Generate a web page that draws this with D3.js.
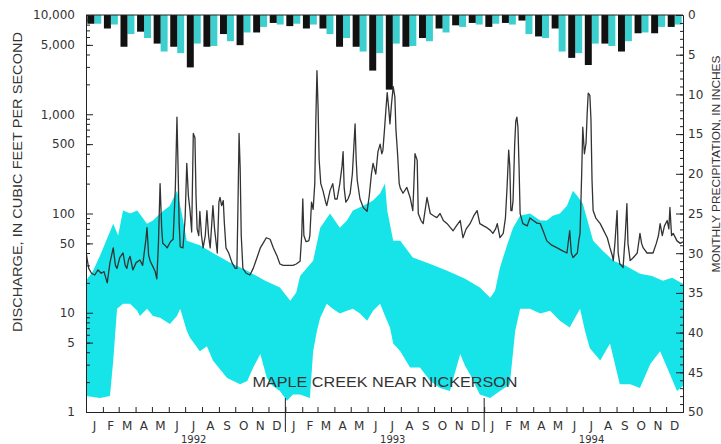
<!DOCTYPE html>
<html>
<head>
<meta charset="utf-8">
<script src="https://cdn.jsdelivr.net/npm/d3@7"></script>
<style>
  body { margin: 0; background: #fff; }
  text { font-family: "DejaVu Sans", sans-serif; fill: #333; }
  .title { font-family: "Liberation Sans", Arial, sans-serif; }
</style>
</head>
<body>
<svg id="chart"></svg>
<script>
// month letters and years along the bottom
const monthLetters = ['J','F','M','A','M','J','J','A','S','O','N','D'];
const years = [1992, 1993, 1994];

// tick labels
const dischargeTicks = [1, 5, 10, 50, 100, 500, 1000, 5000, 10000];
const precipTicks = [0, 5, 10, 15, 20, 25, 30, 35, 40, 45, 50];

// monthly precipitation, inches (Jan 1992 - Dec 1994)
const precipActual = [
  1.1, 1.7, 4.0, 2.1, 3.6, 4.0, 6.6, 4.0, 2.4, 3.8, 2.2, 1.0,
  1.4, 1.7, 1.7, 4.0, 4.0, 7.0, 9.4, 4.0, 2.9, 1.7, 1.3, 1.0,
  1.5, 1.0, 0.7, 2.7, 1.7, 5.4, 6.3, 3.6, 4.6, 2.3, 2.3, 1.5
];
// normal monthly precipitation, inches (Jan - Dec)
const precipNormal = [1.1, 1.2, 2.4, 2.9, 4.6, 4.8, 3.6, 3.9, 3.3, 2.2, 1.5, 1.2];

// daily discharge, [day since 1 Jan 1992, cfs]
const dailyFlow = [
  [0,42],[2,35],[5,28],[10,25],[16,24],[22,27],[28,25],[33,26],[39,20],[44,32],[50,45],[54,30],
  [57,28],[62,36],[68,40],[72,30],[75,28],[78,34],[81,37],[86,27],[92,32],[99,34],[104,30],[110,55],
  [112,72],[115,38],[118,33],[123,29],[127,26],[130,22],[133,50],[136,200],[139,70],[141,50],[145,48],
  [149,45],[155,52],[160,55],[164,180],[167,935],[169,300],[171,80],[173,46],[178,45],[182,90],[185,320],
  [188,150],[191,107],[194,65],[197,640],[200,580],[202,150],[204,70],[207,60],[209,105],[212,60],[215,45],
  [219,60],[222,107],[225,60],[228,45],[233,120],[236,70],[241,40],[244,130],[246,145],[249,120],[252,135],
  [254,80],[257,45],[262,40],[268,32],[274,28],[277,28],[279,120],[281,640],[283,290],[285,60],[288,28],
  [294,25],[301,24],[307,28],[314,36],[320,45],[325,50],[331,57],[338,55],[344,45],[351,37],[356,31],
  [362,30],[369,30],[375,30],[380,30],[386,31],[393,33],
  [396,60],[398,140],[400,60],[404,52],[409,53],[411,60],[414,130],[417,110],[420,200],[422,900],[424,2750],
  [426,1200],[428,350],[431,200],[435,170],[440,130],[442,120],[448,170],[453,200],[457,140],[461,140],
  [466,200],[470,300],[472,420],[474,180],[477,130],[481,140],[485,160],[489,250],[492,500],[494,800],
  [496,350],[498,215],[503,140],[509,115],[516,105],[520,150],[524,250],[527,320],[532,250],[536,420],
  [540,500],[543,400],[545,430],[548,700],[551,1200],[553,1650],[556,1100],[558,800],[561,1300],[564,1900],
  [567,1500],[569,700],[572,400],[575,200],[577,180],[582,160],[589,183],[595,145],[600,107],[602,200],
  [604,400],[608,343],[610,100],[615,85],[619,79],[626,145],[632,100],[638,95],[644,91],[650,100],[656,85],
  [663,79],[669,72],[674,67],[680,75],[687,85],[692,57],[698,70],[705,79],[712,95],[718,107],[723,79],
  [730,75],[736,72],[742,68],[747,63],[752,70],[755,79],[760,57],[766,63],
  [770,90],[773,183],[776,435],[778,300],[780,107],[782,107],[784,135],[787,500],[789,850],[791,935],
  [793,740],[795,300],[797,100],[802,79],[810,75],[815,90],[821,85],[828,80],[834,79],[840,65],[846,53],
  [855,48],[865,45],[875,42],[883,40],[886,55],[888,67],[891,40],[894,36],[898,38],[902,40],[905,55],
  [907,63],[910,250],[912,740],[915,400],[918,510],[920,1000],[922,1630],[925,1550],[927,900],[929,215],
  [931,107],[936,90],[944,79],[950,68],[957,57],[962,45],[966,38],[968,33.5],[971,50],[975,107],[977,40],
  [980,31],[983,30],[986,28.5],[990,60],[993,126],[995,50],[999,33.5],[1005,36],[1012,40],[1017,63],
  [1020,50],[1023,45],[1030,40],[1036,40],[1041,40],[1047,50],[1051,60],[1054,79],[1058,60],[1062,75],
  [1067,85],[1070,70],[1072,115],[1075,60],[1078,63],[1085,53],[1091,50],[1096,52]
];

// historical range band, [day, cfs]
const bandUpper = [
  [0,21],[13,26.5],[26,38],[50,79],[59,60],[68,107],[81,100],[94,107],[112,79],[123,85],[136,100],
  [154,120],[167,170],[176,100],[185,53],[209,48],[233,40],[264,32],[296,26.5],[329,21],[356,18],
  [375,13.2],[386,16],[393,23.5],[417,33.5],[430,72],[448,100],[466,72],[479,85],[490,107],[509,120],
  [527,135],[540,160],[549,200],[553,107],[564,53],[577,53],[600,36],[632,31],[663,26.5],[696,22],
  [723,18],[742,14.2],[751,16.7],[760,28.5],[773,48],[784,72],[797,95],[815,100],[834,85],[846,85],
  [857,95],[870,100],[883,120],[894,170],[902,150],[912,126],[931,53],[949,42],[968,33.5],[990,30],
  [1017,24.7],[1039,23.5],[1059,21],[1076,22.5],[1096,19.6]
];
const bandLower = [
  [0,1.45],[26,1.38],[44,1.45],[50,3.3],[57,11],[68,12.3],[81,12.3],[94,10.5],[99,9.3],[112,11],
  [123,9.3],[136,8.9],[154,7.7],[167,9.3],[173,11],[185,6.6],[191,5.6],[209,4.1],[222,4.6],[233,3.3],
  [246,2.7],[259,2.2],[283,1.9],[296,2.05],[307,2.8],[320,3.85],[332,2.2],[343,1.83],[356,1.63],
  [369,1.3],[380,1.5],[393,1.5],[411,1.38],[417,4.1],[424,6.6],[430,8.9],[442,12.3],[453,11],[466,9.8],
  [479,10.5],[490,11],[503,9.8],[516,8.3],[527,10.5],[540,12.3],[549,9.3],[558,7.1],[564,4.9],[577,4.1],
  [595,2.8],[613,2.8],[632,2.05],[650,1.75],[668,1.63],[687,3.85],[696,2.9],[705,2.4],[723,1.5],
  [742,1.38],[760,1.63],[778,1.9],[788,6.6],[797,11],[815,11],[834,9.8],[852,10.5],[870,8.3],[888,7.1],
  [907,11],[916,6.6],[925,4.4],[944,3.3],[962,4.9],[980,1.9],[999,1.9],[1017,1.75],[1036,3.05],
  [1054,4.1],[1072,2.4],[1085,1.63],[1096,1.83]
];

const width = 721, height = 444;
const margin = {left: 86, right: 683, top: 15, bottom: 412};
const start = new Date(1992, 0, 1);
const end = new Date(1995, 0, 1);
const day = d => d3.timeDay.offset(start, d);

const svg = d3.select('#chart').attr('width', width).attr('height', height);

const x = d3.scaleTime().domain([start, end]).range([margin.left, margin.right]);
const y = d3.scaleLog().domain([1, 10000]).range([margin.bottom, margin.top]);
const yP = d3.scaleLinear().domain([0, 50]).range([margin.top, margin.bottom]);

svg.append('clipPath').attr('id', 'plot')
  .append('rect')
  .attr('x', margin.left).attr('y', margin.top)
  .attr('width', margin.right - margin.left).attr('height', margin.bottom - margin.top);

const plot = svg.append('g').attr('clip-path', 'url(#plot)');

// cyan band
const bandPts = bandUpper.concat(bandLower.slice().reverse());
plot.append('path')
  .attr('d', d3.line().x(d => x(day(d[0]))).y(d => y(d[1]))(bandPts) + 'Z')
  .attr('fill', '#16e4e8');

// daily discharge
plot.append('path')
  .datum(dailyFlow)
  .attr('d', d3.line().x(d => x(day(d[0]))).y(d => y(d[1])))
  .attr('fill', 'none')
  .attr('stroke', '#333')
  .attr('stroke-width', 1.3)
  .attr('stroke-linejoin', 'round');

// precipitation bars hanging from the top
const monthBand = d3.scaleBand().domain(d3.range(36)).range([margin.left, margin.right])
  .paddingInner(0.16).paddingOuter(0.08);
const sub = d3.scaleBand().domain(['actual', 'normal']).range([0, monthBand.bandwidth()]);

const bars = svg.append('g');
bars.selectAll('rect.normal')
  .data(d3.range(36)).enter().append('rect')
  .attr('class', 'normal')
  .attr('x', i => monthBand(i) + sub('normal'))
  .attr('width', sub.bandwidth())
  .attr('y', margin.top)
  .attr('height', i => yP(precipNormal[i % 12]) - margin.top)
  .attr('fill', '#3ccfd0');
bars.selectAll('rect.actual')
  .data(precipActual).enter().append('rect')
  .attr('class', 'actual')
  .attr('x', (d, i) => monthBand(i) + sub('actual'))
  .attr('width', sub.bandwidth())
  .attr('y', margin.top)
  .attr('height', d => yP(d) - margin.top)
  .attr('fill', '#111');

// left axis: minor and major ticks
const minor = [];
[1, 10, 100, 1000].forEach(dec => { for (let k = 2; k <= 9; k++) minor.push(dec * k); });
svg.append('g').attr('transform', `translate(${margin.left},0)`)
  .call(d3.axisLeft(y).tickValues(minor).tickSize(-4).tickFormat(''))
  .call(g => g.select('.domain').remove());
svg.append('g').attr('transform', `translate(${margin.left},0)`)
  .call(d3.axisLeft(y).tickValues(dischargeTicks).tickSize(-7).tickPadding(11).tickFormat(d3.format(',')))
  .call(g => g.selectAll('text').attr('font-size', 12).attr('font-family', 'DejaVu Sans').attr('fill', '#333'));

// right axis
svg.append('g').attr('transform', `translate(${margin.right},0)`)
  .call(d3.axisRight(yP).tickValues(d3.range(0, 51)).tickSize(-3).tickFormat(''))
  .call(g => g.select('.domain').remove());
svg.append('g').attr('transform', `translate(${margin.right},0)`)
  .call(d3.axisRight(yP).tickValues(precipTicks).tickSize(-7).tickPadding(5))
  .call(g => g.selectAll('text').attr('font-size', 12).attr('font-family', 'DejaVu Sans').attr('fill', '#333'));

// bottom axis with month ticks
svg.append('g').attr('transform', `translate(0,${margin.bottom})`)
  .call(d3.axisBottom(x).ticks(d3.timeMonth.every(1)).tickSize(-5).tickFormat(''));

// top line
svg.append('line')
  .attr('x1', margin.left).attr('x2', margin.right)
  .attr('y1', margin.top).attr('y2', margin.top)
  .attr('stroke', '#222');

svg.selectAll('.domain, .tick line').attr('stroke', '#222');

// month letters
const months = d3.timeMonth.range(start, end);
svg.append('g').selectAll('text')
  .data(months).enter().append('text')
  .attr('x', d => (x(d) + x(d3.timeMonth.offset(d, 1))) / 2)
  .attr('y', 430)
  .attr('text-anchor', 'middle')
  .attr('font-size', 12)
  .text(d => monthLetters[d.getMonth()]);

// year dividers
svg.append('g').selectAll('line')
  .data(years.slice(1)).enter().append('line')
  .attr('x1', d => x(new Date(d, 0, 1))).attr('x2', d => x(new Date(d, 0, 1)))
  .attr('y1', 398).attr('y2', 432)
  .attr('stroke', '#222');

// year labels
svg.append('g').selectAll('text')
  .data(years).enter().append('text')
  .attr('x', d => (x(new Date(d, 0, 1)) + x(new Date(d + 1, 0, 1))) / 2 + 8)
  .attr('y', 443)
  .attr('text-anchor', 'middle')
  .attr('font-size', 10)
  .text(d => d);

// axis titles
svg.append('text').attr('class', 'title')
  .attr('transform', 'translate(22,182) rotate(-90)')
  .attr('text-anchor', 'middle')
  .attr('font-size', 13)
  .attr('textLength', 300).attr('lengthAdjust', 'spacingAndGlyphs')
  .text('DISCHARGE, IN CUBIC FEET PER SECOND');

svg.append('text').attr('class', 'title')
  .attr('transform', 'translate(720,164) rotate(-90)')
  .attr('text-anchor', 'middle')
  .attr('font-size', 11)
  .attr('textLength', 217).attr('lengthAdjust', 'spacingAndGlyphs')
  .text('MONTHLY PRECIPITATION, IN INCHES');

// station name
svg.append('text').attr('class', 'title')
  .attr('x', 385).attr('y', 387)
  .attr('text-anchor', 'middle')
  .attr('font-size', 14)
  .attr('textLength', 265).attr('lengthAdjust', 'spacingAndGlyphs')
  .text('MAPLE CREEK NEAR NICKERSON');
</script>
</body>
</html>
